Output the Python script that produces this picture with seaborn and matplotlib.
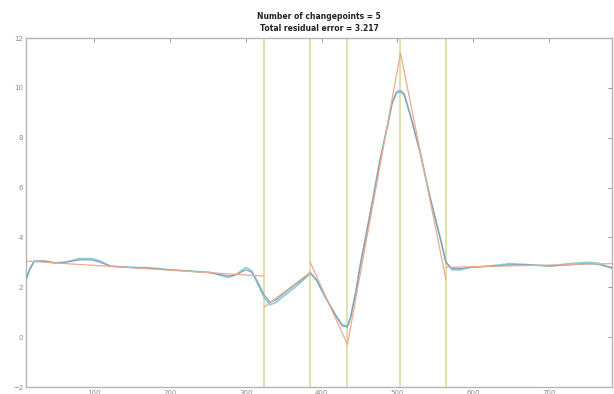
import matplotlib
matplotlib.use("Agg")
import matplotlib.pyplot as plt
import seaborn as sns
import pandas as pd

# ---- data ----
sample = [10, 15, 21, 35, 48, 61, 81, 97, 108, 121, 147, 174, 200, 226, 253, 266, 277, 287,
          300, 308, 316, 324, 332, 340, 352, 365, 376, 385, 393, 405, 418, 427, 434, 438,
          445, 451, 458, 468, 477, 487, 493, 499, 504, 509, 517, 530, 543, 557, 564, 572,
          583, 596, 622, 649, 675, 701, 728, 754, 767, 783]
signal = [2.3, 2.7, 3.05, 3.05, 2.98, 3.0, 3.15, 3.15, 3.05, 2.85, 2.8, 2.78, 2.7, 2.65, 2.6,
          2.5, 2.4, 2.5, 2.8, 2.65, 2.1, 1.6, 1.3, 1.4, 1.7, 2.0, 2.3, 2.55, 2.3, 1.6, 0.9,
          0.5, 0.45, 0.8, 1.8, 2.9, 4.0, 5.6, 7.1, 8.5, 9.4, 9.85, 9.9, 9.75, 8.9, 7.4, 5.6,
          3.9, 3.0, 2.7, 2.7, 2.8, 2.85, 2.95, 2.9, 2.85, 2.95, 3.0, 2.95, 2.75]
signal_trace = [2.35, 2.75, 3.05, 3.05, 2.98, 3.0, 3.1, 3.1, 3.0, 2.85, 2.8, 2.76, 2.7, 2.65,
                2.58, 2.5, 2.45, 2.5, 2.7, 2.6, 2.2, 1.7, 1.4, 1.5, 1.8, 2.1, 2.35, 2.6, 2.3,
                1.6, 0.9, 0.45, 0.4, 0.75, 1.8, 2.9, 4.0, 5.6, 7.1, 8.5, 9.4, 9.8, 9.85, 9.7,
                8.9, 7.4, 5.6, 3.9, 3.0, 2.75, 2.75, 2.8, 2.85, 2.9, 2.9, 2.85, 2.9, 2.95,
                2.9, 2.8]
fit_x = [10, 324, None, 324, 385, None, 385, 434, 504, 564, None, 564, 783]
fit_y = [3.05, 2.45, None, 1.2, 2.6, None, 3.0, -0.3, 11.4, 2.3, None, 2.8, 2.95]
changepoints = [324, 385, 434, 504, 564]
xticks = [100, 200, 300, 400, 500, 600, 700]
yticks = [-2, 0, 2, 4, 6, 8, 10, 12]
title = "Number of changepoints = 5\nTotal residual error = 3.217"

# ---- plot ----
sns.set_style("white")
fig = plt.figure(figsize=(6.14, 3.94), dpi=100)
ax = fig.add_axes([26 / 614, 1 - 387 / 394, (612 - 26) / 614, (387 - 38) / 394])

for cp in changepoints:
    ax.axvline(cp, color="#dcdfa6", lw=1.3, zorder=1)

df = pd.DataFrame({"x": sample, "signal": signal, "trace": signal_trace})
sns.lineplot(data=df, x="x", y="signal", ax=ax, color="#86d3de", lw=1.3, zorder=2)
sns.lineplot(data=df, x="x", y="trace", ax=ax, color="#9294ad", lw=0.8, zorder=3)

# fitted piecewise-linear segments
segs = []
cur = []
for xv, yv in zip(fit_x, fit_y):
    if xv is None:
        segs.append(cur)
        cur = []
    else:
        cur.append((xv, yv))
segs.append(cur)
for seg in segs:
    sdf = pd.DataFrame(seg, columns=["x", "y"])
    sns.lineplot(data=sdf, x="x", y="y", ax=ax, color="#e9ab90", lw=0.9, zorder=4,
                 sort=False, estimator=None)

ax.set_xlim(10, 783)
ax.set_ylim(-2, 12)
ax.set_xticks(xticks)
ax.set_yticks(yticks)
ax.set_xlabel("")
ax.set_ylabel("")
ax.tick_params(direction="in", length=3, width=0.6, colors="#8a8a8a", labelsize=5,
               top=True, right=True, pad=2)
for s in ax.spines.values():
    s.set_color("#b5b5b5")
    s.set_linewidth(1.0)
ax.set_title(title, fontsize=5.5, fontweight="bold", color="#222222", pad=5,
             linespacing=1.5)

fig.savefig("out.png", dpi=100)
